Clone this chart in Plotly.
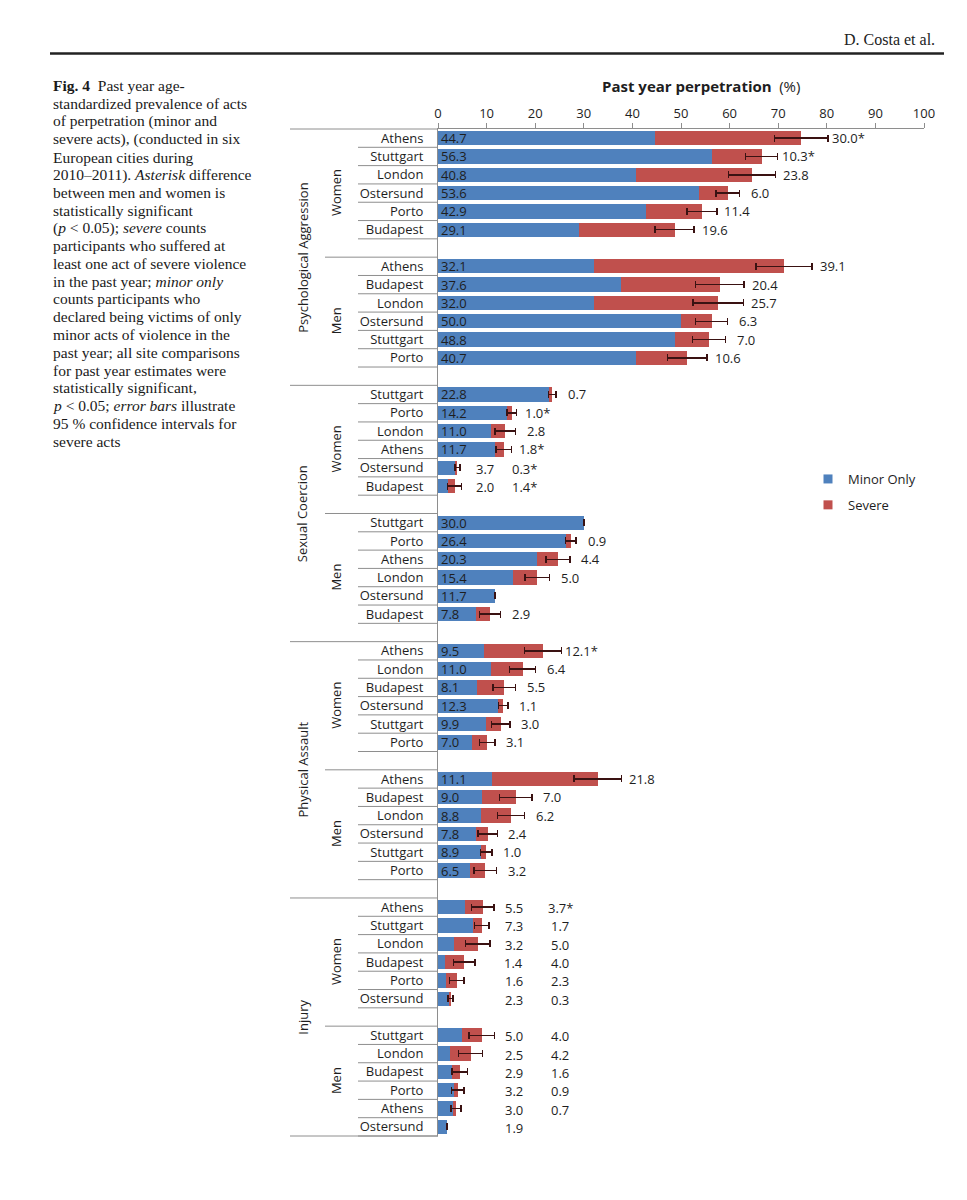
import plotly.graph_objects as go

# ---------------- data ----------------
SECTIONS = ["Psychological Aggression", "Sexual Coercion", "Physical Assault", "Injury"]
GENDERS = ["Women", "Men"]
X_TICKS = [0, 10, 20, 30, 40, 50, 60, 70, 80, 90, 100]

psych_women_cities = ["Athens", "Stuttgart", "London", "Ostersund", "Porto", "Budapest"]
psych_women_minor = [44.7, 56.3, 40.8, 53.6, 42.9, 29.1]
psych_women_severe = [30.0, 10.3, 23.8, 6.0, 11.4, 19.6]
psych_women_ci = [5.5, 3.3, 4.8, 2.4, 3.1, 4.0]
psych_women_sig = [1, 1, 0, 0, 0, 0]

psych_men_cities = ["Athens", "Budapest", "London", "Ostersund", "Stuttgart", "Porto"]
psych_men_minor = [32.1, 37.6, 32.0, 50.0, 48.8, 40.7]
psych_men_severe = [39.1, 20.4, 25.7, 6.3, 7.0, 10.6]
psych_men_ci = [5.8, 5.0, 5.2, 3.3, 3.4, 4.1]
psych_men_sig = [0, 0, 0, 0, 0, 0]

sexual_women_cities = ["Stuttgart", "Porto", "London", "Athens", "Ostersund", "Budapest"]
sexual_women_minor = [22.8, 14.2, 11.0, 11.7, 3.7, 2.0]
sexual_women_severe = [0.7, 1.0, 2.8, 1.8, 0.3, 1.4]
sexual_women_ci = [0.8, 1.0, 2.1, 1.6, 0.55, 1.4]
sexual_women_sig = [0, 1, 0, 1, 1, 1]

sexual_men_cities = ["Stuttgart", "Porto", "Athens", "London", "Ostersund", "Budapest"]
sexual_men_minor = [30.0, 26.4, 20.3, 15.4, 11.7, 7.8]
sexual_men_severe = [None, 0.9, 4.4, 5.0, None, 2.9]
sexual_men_ci = [0.0, 1.1, 2.5, 2.5, 0.0, 2.2]
sexual_men_sig = [0, 0, 0, 0, 0, 0]

physical_women_cities = ["Athens", "London", "Budapest", "Ostersund", "Stuttgart", "Porto"]
physical_women_minor = [9.5, 11.0, 8.1, 12.3, 9.9, 7.0]
physical_women_severe = [12.1, 6.4, 5.5, 1.1, 3.0, 3.1]
physical_women_ci = [3.8, 2.7, 2.3, 1.0, 1.9, 1.6]
physical_women_sig = [1, 0, 0, 0, 0, 0]

physical_men_cities = ["Athens", "Budapest", "London", "Ostersund", "Stuttgart", "Porto"]
physical_men_minor = [11.1, 9.0, 8.8, 7.8, 8.9, 6.5]
physical_men_severe = [21.8, 7.0, 6.2, 2.4, 1.0, 3.2]
physical_men_ci = [4.9, 3.3, 2.8, 2.0, 1.2, 2.3]
physical_men_sig = [0, 0, 0, 0, 0, 0]

injury_women_cities = ["Athens", "Stuttgart", "London", "Budapest", "Porto", "Ostersund"]
injury_women_minor = [5.5, 7.3, 3.2, 1.4, 1.6, 2.3]
injury_women_severe = [3.7, 1.7, 5.0, 4.0, 2.3, 0.3]
injury_women_ci = [2.3, 1.5, 2.5, 2.2, 1.5, 0.5]
injury_women_sig = [1, 0, 0, 0, 0, 0]

injury_men_cities = ["Stuttgart", "London", "Budapest", "Porto", "Athens", "Ostersund"]
injury_men_minor = [5.0, 2.5, 2.9, 3.2, 3.0, 1.9]
injury_men_severe = [4.0, 4.2, 1.6, 0.9, 0.7, None]
injury_men_ci = [2.6, 2.5, 1.6, 1.3, 1.0, 0.0]
injury_men_sig = [0, 0, 0, 0, 0, 0]

GROUPS = [
    ("Psychological Aggression", "Women", psych_women_cities, psych_women_minor, psych_women_severe, psych_women_ci, psych_women_sig),
    ("Psychological Aggression", "Men", psych_men_cities, psych_men_minor, psych_men_severe, psych_men_ci, psych_men_sig),
    ("Sexual Coercion", "Women", sexual_women_cities, sexual_women_minor, sexual_women_severe, sexual_women_ci, sexual_women_sig),
    ("Sexual Coercion", "Men", sexual_men_cities, sexual_men_minor, sexual_men_severe, sexual_men_ci, sexual_men_sig),
    ("Physical Assault", "Women", physical_women_cities, physical_women_minor, physical_women_severe, physical_women_ci, physical_women_sig),
    ("Physical Assault", "Men", physical_men_cities, physical_men_minor, physical_men_severe, physical_men_ci, physical_men_sig),
    ("Injury", "Women", injury_women_cities, injury_women_minor, injury_women_severe, injury_women_ci, injury_women_sig),
    ("Injury", "Men", injury_men_cities, injury_men_minor, injury_men_severe, injury_men_ci, injury_men_sig),
]

CAPTION = [
    "<b>Fig. 4</b>\u00a0 Past year age-",
    "standardized prevalence of acts",
    "of perpetration (minor and",
    "severe acts), (conducted in six",
    "European cities during",
    "2010\u20132011). <i>Asterisk</i> difference",
    "between men and women is",
    "statistically significant",
    "(<i>p</i> &lt; 0.05); <i>severe</i> counts",
    "participants who suffered at",
    "least one act of severe violence",
    "in the past year; <i>minor only</i>",
    "counts participants who",
    "declared being victims of only",
    "minor acts of violence in the",
    "past year; all site comparisons",
    "for past year estimates were",
    "statistically significant,",
    "<i>p</i> &lt; 0.05; <i>error bars</i> illustrate",
    "95 % confidence intervals for",
    "severe acts",
]

# ---------------- layout constants ----------------
FIG_W, FIG_H = 967, 1200
M_L, M_R, M_T, M_B = 438, 43, 129, 64
PLOT_W = FIG_W - M_L - M_R
PLOT_H = FIG_H - M_T - M_B

BLUE = "#4F81BD"
RED = "#C0504D"
ERR = "#3a1212"
LINE = "#8e8e8e"
TXT = "#1e1e1e"
FONT = "Open Sans"
SERIF = "Liberation Serif"

# label columns used where the original places values in fixed columns (x in data units)
SECTION_LABEL_COLUMNS = {"Injury": (15.6, 25.2)}
ROW_LABEL_COLUMNS = {
    ("Sexual Coercion", "Women", "Ostersund"): (9.6, 17.8),
    ("Sexual Coercion", "Women", "Budapest"): (9.7, 17.8),
}


def px_x(px):
    return (px - M_L) / PLOT_W


def px_y(py):
    return (FIG_H - M_B - py) / PLOT_H


def value_label(x, y, text, anchor, xshift=0, yshift=0):
    return dict(x=x, y=y, xref="x", yref="y", text=text, xanchor=anchor, yanchor="middle",
                showarrow=False, xshift=xshift, yshift=yshift,
                font=dict(family=FONT, size=13, color=TXT))


# ---------------- build rows ----------------
n_city = len(GROUPS[0][2])
block = n_city + 1  # cities + spacer row

rows, cities, minor, severe, ci = [], [], [], [], []
minor_text, minor_pos = [], []
annotations = []
group_rows = []
for sec, gen, cts, mn, sv, er, sg in GROUPS:
    s_i = SECTIONS.index(sec)
    g_i = GENDERS.index(gen)
    base = s_i * 2 * block + g_i * block
    grp = []
    for i, c in enumerate(cts):
        r = base + i
        grp.append(r)
        rows.append(r)
        cities.append(c)
        minor.append(mn[i])
        sev = sv[i] if sv[i] is not None else 0
        severe.append(sev)
        ci.append(er[i])
        sev_txt = "" if sv[i] is None else ("%.1f" % sv[i] + ("*" if sg[i] else ""))
        cols = ROW_LABEL_COLUMNS.get((sec, gen, c), SECTION_LABEL_COLUMNS.get(sec))
        if cols is None:
            minor_text.append("%.1f" % mn[i])
            minor_pos.append("inside")
            if sev_txt:
                annotations.append(value_label(mn[i] + sev + er[i], r, sev_txt, "center", xshift=20.5))
        else:
            minor_text.append("")
            minor_pos.append("none")
            annotations.append(value_label(cols[0], r, "%.1f" % mn[i], "center", yshift=-1))
            if sev_txt:
                annotations.append(value_label(cols[1], r, sev_txt, "center", yshift=-1))
    group_rows.append((sec, gen, grp))

last_row = max(rows)
y_top, y_bot = -0.5, last_row + 0.5

# ---------------- separator lines ----------------
shapes = []


def hline(row_edge, x_from_px):
    if row_edge <= y_top:
        yref, yv = "paper", 1
    elif row_edge >= y_bot:
        yref, yv = "paper", 0
    else:
        yref, yv = "y", row_edge
    shapes.append(dict(type="line", xref="paper", yref=yref, x0=px_x(x_from_px), x1=0,
                       y0=yv, y1=yv, line=dict(color=LINE, width=1)))


CITY_X, GENDER_X, SECTION_X = 358, 325, 290
for sec, gen, grp in group_rows:
    for r in grp:
        hline(r + 0.5, CITY_X)
    if gen == GENDERS[1]:
        hline(grp[0] - 0.5, GENDER_X)
for s_i, sec in enumerate(SECTIONS):
    hline(s_i * 2 * block - 0.5, SECTION_X)
hline(y_bot, SECTION_X)

# header rule
shapes.append(dict(type="line", xref="paper", yref="paper", x0=px_x(50), x1=px_x(944),
                   y0=px_y(53.5), y1=px_y(53.5), line=dict(color="#222222", width=2.5)))

# ---------------- group labels ----------------
for sec, gen, grp in group_rows:
    g_i = GENDERS.index(gen)
    s_i = SECTIONS.index(sec)
    start = s_i * 2 * block + g_i * block
    end = min(start + block - 1, last_row)
    annotations.append(dict(x=px_x(336), y=(start + end) / 2, xref="paper", yref="y", text=gen,
                            textangle=-90, showarrow=False, xanchor="center", yanchor="middle",
                            font=dict(family=FONT, size=13, color=TXT)))
for s_i, sec in enumerate(SECTIONS):
    start = s_i * 2 * block
    end = min(start + 2 * block - 1, last_row)
    annotations.append(dict(x=px_x(302.7), y=(start + end) / 2, xref="paper", yref="y", text=sec,
                            textangle=-90, showarrow=False, xanchor="center", yanchor="middle",
                            font=dict(family=FONT, size=13, color=TXT)))

# axis title
annotations.append(dict(x=px_x(600), y=px_y(86), xref="paper", yref="paper",
                        text="<b>Past year perpetration</b>\u2002(%)", showarrow=False,
                        xanchor="left", yanchor="middle",
                        font=dict(family=FONT, size=15, color=TXT)))

# header text
annotations.append(dict(x=px_x(937), y=px_y(39), xref="paper", yref="paper", text="D. Costa et al.",
                        showarrow=False, xanchor="right", yanchor="middle",
                        font=dict(family=SERIF, size=16, color="#222222")))

# caption
for i, line in enumerate(CAPTION):
    annotations.append(dict(x=px_x(51), y=px_y(86 + i * 17.75), xref="paper", yref="paper", text=line,
                            showarrow=False, xanchor="left", yanchor="middle",
                            font=dict(family=SERIF, size=15.5, color="#1a1a1a")))

# ---------------- traces ----------------
fig = go.Figure()
fig.add_trace(go.Bar(y=rows, x=minor, orientation="h", name="Minor Only", legendgroup="minor",
                     showlegend=False, marker=dict(color=BLUE, line=dict(width=0)),
                     text=minor_text, textposition=minor_pos, insidetextanchor="start",
                     textangle=0, constraintext="none",
                     insidetextfont=dict(family=FONT, size=13, color=TXT)))
fig.add_trace(go.Bar(y=rows, x=severe, orientation="h", name="Severe", legendgroup="severe",
                     showlegend=False, marker=dict(color=RED, line=dict(width=0)),
                     error_x=dict(type="data", array=ci, color=ERR, thickness=1.5, width=3.5)))
fig.add_trace(go.Scatter(x=[None], y=[None], mode="markers", name="Minor Only", legendgroup="minor",
                         marker=dict(symbol="square", size=9, color=BLUE)))
fig.add_trace(go.Scatter(x=[None], y=[None], mode="markers", name="Severe", legendgroup="severe",
                         marker=dict(symbol="square", size=9, color=RED)))

fig.update_layout(
    width=FIG_W, height=FIG_H,
    margin=dict(l=M_L, r=M_R, t=M_T, b=M_B, autoexpand=False),
    paper_bgcolor="white", plot_bgcolor="white",
    barmode="stack", bargap=0.22,
    font=dict(family=FONT, size=13, color=TXT),
    showlegend=True,
    legend=dict(x=px_x(808), y=px_y(464), xanchor="left", yanchor="top",
                traceorder="grouped", tracegroupgap=6, bgcolor="rgba(0,0,0,0)",
                font=dict(family=FONT, size=13, color=TXT)),
    annotations=annotations,
    shapes=shapes,
)
fig.update_xaxes(range=[0, 100], tickvals=X_TICKS, side="top", ticks="outside", ticklen=5,
                 tickcolor=LINE, showline=True, linecolor=LINE, linewidth=1, showgrid=False,
                 zeroline=False, automargin=False, tickfont=dict(family=FONT, size=13, color=TXT))
fig.update_yaxes(range=[y_bot, y_top], tickvals=rows, ticktext=cities, ticks="", showline=True,
                 linecolor=LINE, linewidth=1, showgrid=False, zeroline=False, automargin=False,
                 ticklabelstandoff=11, tickfont=dict(family=FONT, size=13, color=TXT))

fig.write_html("out.html", config={"displayModeBar": False},
               post_script="document.body.style.margin='0px';document.body.style.padding='0px';")
